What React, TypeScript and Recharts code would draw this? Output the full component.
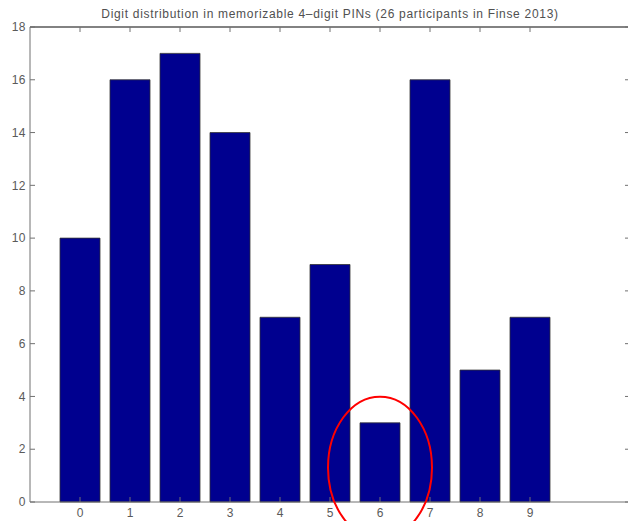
import React from "react";
import { BarChart, Bar, XAxis, YAxis, ReferenceDot, ReferenceLine } from "recharts";

const digits = [0, 1, 2, 3, 4, 5, 6, 7, 8, 9];
const counts = [10, 16, 17, 14, 7, 9, 3, 16, 5, 7];
const yTicks = [0, 2, 4, 6, 8, 10, 12, 14, 16, 18];
const title = "Digit distribution in memorizable 4\u2013digit PINs (26 participants in Finse 2013)";

const data = digits.map((d, i) => ({ digit: d, count: counts[i] }));

const axisColor = "#707070";
const textColor = "#5a5a5a";
const font = "'Liberation Sans', Arial, sans-serif";
const xMin = -1;
const xMax = 11;
const yMax = 18;
const vTick = 0.19;
const hTick = 0.1;

const Ellipse = (props: any) => {
  const { cx, cy } = props;
  if (cx == null || cy == null) return null;
  return <ellipse cx={cx} cy={cy} rx={52} ry={71} fill="none" stroke="#ff0000" strokeWidth={2} />;
};

export default function App() {
  return (
    <div style={{ position: "absolute", left: 0, top: 0, width: 628, height: 521, overflow: "hidden", background: "#fff" }}>
      <BarChart width={630} height={521} data={data} margin={{ top: 17, right: 0, bottom: 0, left: 0 }}>
        <XAxis
          xAxisId="top"
          orientation="top"
          dataKey="digit"
          type="number"
          domain={[xMin, xMax]}
          ticks={digits}
          height={10}
          stroke={axisColor}
          tick={false}
          tickLine={false}
        />
        <XAxis
          xAxisId="bottom"
          dataKey="digit"
          type="number"
          domain={[xMin, xMax]}
          ticks={digits}
          height={19}
          tickSize={0}
          tickMargin={6}
          tickLine={false}
          stroke={axisColor}
          tick={{ fill: textColor, fontSize: 12, fontFamily: font }}
        />
        <YAxis
          yAxisId="left"
          type="number"
          domain={[0, yMax]}
          ticks={yTicks}
          width={30}
          tickSize={0}
          tickMargin={4}
          tickLine={false}
          stroke={axisColor}
          tick={{ fill: textColor, fontSize: 12, fontFamily: font, letterSpacing: 0.5 }}
        />
        <Bar
          dataKey="count"
          xAxisId="bottom"
          yAxisId="left"
          barSize={40}
          fill="#00008f"
          stroke="#333"
          strokeWidth={0.8}
          isAnimationActive={false}
        />
        <ReferenceLine y={yMax} xAxisId="bottom" yAxisId="left" stroke={axisColor} strokeWidth={1.5} />
        {digits.map((d) => (
          <ReferenceLine
            key={"t" + d}
            xAxisId="bottom"
            yAxisId="left"
            segment={[
              { x: d, y: yMax - vTick },
              { x: d, y: yMax - 0.001 },
            ]}
            stroke={axisColor}
          />
        ))}
        {digits.map((d) => (
          <ReferenceLine
            key={"b" + d}
            xAxisId="bottom"
            yAxisId="left"
            segment={[
              { x: d, y: 0.001 },
              { x: d, y: vTick },
            ]}
            stroke={axisColor}
          />
        ))}
        {yTicks.map((t) => (
          <ReferenceLine
            key={"l" + t}
            xAxisId="bottom"
            yAxisId="left"
            segment={[
              { x: xMin + 0.001, y: t },
              { x: xMin + hTick, y: t },
            ]}
            stroke={axisColor}
          />
        ))}
        {yTicks.map((t) => (
          <ReferenceLine
            key={"r" + t}
            xAxisId="bottom"
            yAxisId="left"
            segment={[
              { x: xMax - 0.001, y: t },
              { x: xMax - hTick, y: t },
            ]}
            stroke={axisColor}
          />
        ))}
        <ReferenceDot x={6} y={1.3} xAxisId="bottom" yAxisId="left" shape={<Ellipse />} ifOverflow="visible" />
      </BarChart>
      <div
        style={{
          position: "absolute",
          left: 30,
          width: 600,
          top: 7,
          textAlign: "center",
          fontFamily: font,
          fontSize: 12,
          letterSpacing: 0.7,
          color: "#505050",
          lineHeight: "14px",
          whiteSpace: "nowrap",
          pointerEvents: "none",
        }}
      >
        {title}
      </div>
    </div>
  );
}
